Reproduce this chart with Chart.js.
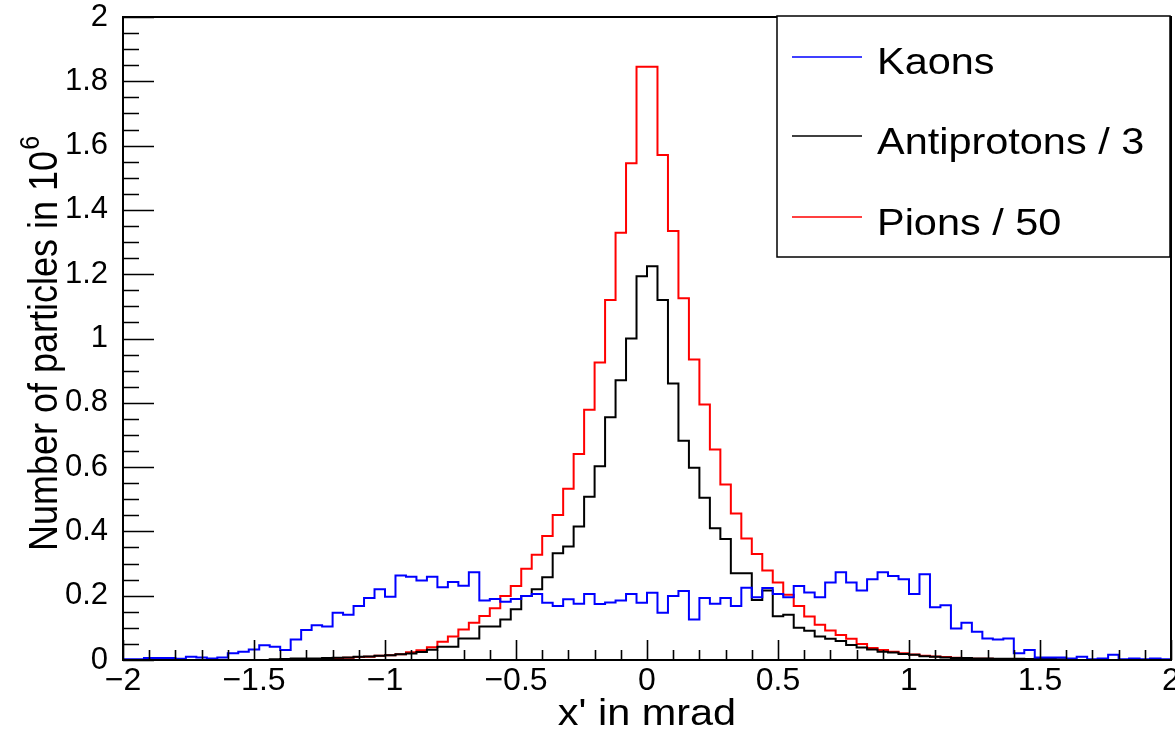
<!DOCTYPE html>
<html>
<head>
<meta charset="utf-8">
<script src="https://cdn.jsdelivr.net/npm/chart.js@4.4.1/dist/chart.umd.min.js"></script>
<style>
html,body{margin:0;padding:0;background:#fff;}
#wrap{position:relative;width:1175px;height:729px;}
</style>
</head>
<body>
<div id="wrap"><canvas id="c" width="1175" height="729"></canvas></div>
<script>
// ---- histogram binning (100 bins from -2 to 2 mrad) ----
const binLow = -2;
const binWidth = 0.04;
const nBins = 100;

// ---- axis tick labels ----
const xTicks = [-2, -1.5, -1, -0.5, 0, 0.5, 1, 1.5, 2];
const yTicks = [0, 0.2, 0.4, 0.6, 0.8, 1, 1.2, 1.4, 1.6, 1.8, 2];

// ---- series names ----
const seriesNames = ['Kaons', 'Antiprotons / 3', 'Pions / 50'];
const xTitle = "x' in mrad";
const yTitle = 'Number of particles in 10';
const yTitleSup = '6';

// ---- bin contents (in 10^6) ----
const kaons = [
  0.002,0.002,0.006,0.006,0.006,0.004,0.010,0.008,0.005,0.008,
  0.021,0.026,0.033,0.046,0.041,0.031,0.064,0.093,0.108,0.104,
  0.147,0.141,0.168,0.193,0.220,0.197,0.263,0.259,0.247,0.259,
  0.226,0.243,0.231,0.273,0.185,0.190,0.181,0.190,0.199,0.205,
  0.178,0.168,0.189,0.175,0.205,0.174,0.179,0.185,0.205,0.178,
  0.209,0.147,0.199,0.215,0.126,0.193,0.175,0.193,0.168,0.225,
  0.195,0.224,0.205,0.195,0.230,0.210,0.195,0.241,0.273,0.241,
  0.216,0.251,0.273,0.261,0.251,0.205,0.267,0.164,0.170,0.098,
  0.116,0.088,0.067,0.064,0.067,0.021,0.031,0.008,0.008,0.008,
  0.005,0.010,0.002,0.005,0.016,0.002,0.005,0.002,0.005,0.002
];
const antiprotons = [
  0,0,0,0,0,0,0,0,0,0,
  0,0,0,0,0.002,0.003,0.005,0.005,0.005,0.006,
  0.007,0.008,0.010,0.011,0.013,0.015,0.018,0.020,0.025,0.032,
  0.041,0.041,0.067,0.067,0.104,0.104,0.126,0.158,0.199,0.220,
  0.257,0.332,0.353,0.415,0.508,0.603,0.755,0.870,1.000,1.194,
  1.225,1.120,0.860,0.682,0.598,0.505,0.410,0.376,0.270,0.270,
  0.187,0.216,0.136,0.141,0.100,0.091,0.073,0.066,0.059,0.047,
  0.039,0.033,0.026,0.023,0.019,0.016,0.012,0.010,0.008,0.006,
  0.006,0.005,0.005,0.004,0.004,0.004,0.003,0.005,0.004,0.002,
  0.001,0,0,0,0,0,0,0,0,0
];
const pions = [
  0,0,0,0,0,0,0,0,0,0,
  0,0,0,0,0,0,0,0,0.003,0.004,
  0.006,0.007,0.009,0.010,0.013,0.015,0.018,0.024,0.030,0.040,
  0.057,0.073,0.095,0.116,0.137,0.161,0.199,0.230,0.284,0.327,
  0.386,0.451,0.533,0.641,0.778,0.925,1.120,1.329,1.545,1.845,
  1.845,1.571,1.334,1.125,0.935,0.795,0.655,0.546,0.456,0.378,
  0.330,0.278,0.241,0.203,0.168,0.135,0.110,0.092,0.078,0.066,
  0.050,0.037,0.031,0.026,0.021,0.017,0.013,0.011,0.009,0.007,
  0.006,0.004,0.004,0,0,0,0,0,0,0,
  0,0,0,0,0,0,0,0,0,0
];

const colors = ['#0000ff', '#000000', '#ff0000'];
const FONT = "'Liberation Sans', Arial, Helvetica, sans-serif";
const TEXT_SX = 1.12; // horizontal stretch of the reference lettering

// histogram -> step points at bin low edges plus the final upper edge
function toSteps(values) {
  const pts = values.map((v, i) => ({ x: +(binLow + i * binWidth).toFixed(4), y: v }));
  pts.push({ x: +(binLow + nBins * binWidth).toFixed(4), y: values[values.length - 1] });
  return pts;
}
function fmt(v) {
  return String(v).replace('-', '\u2212');
}
// draw horizontally stretched text
function sText(ctx, txt, x, y, align) {
  ctx.save();
  ctx.translate(x, y);
  ctx.scale(TEXT_SX, 1);
  ctx.textAlign = align || 'left';
  ctx.fillText(txt, 0, 0);
  ctx.restore();
}

const framePlugin = {
  id: 'rootFrame',
  afterDatasetsDraw(chart) {
    const { ctx, chartArea: a, scales } = chart;
    const xs = scales.x, ys = scales.y;
    ctx.save();
    ctx.strokeStyle = '#000';
    ctx.lineWidth = 2;
    ctx.strokeRect(a.left, a.top, a.right - a.left, a.bottom - a.top);
    ctx.lineWidth = 1.6;
    ctx.beginPath();
    // y ticks (inward)
    for (let k = 0; k <= 40; k++) {
      const v = k * 0.05;
      const py = Math.round(ys.getPixelForValue(v)) + 0.5;
      const len = (k % 4 === 0) ? 31 : 16;
      ctx.moveTo(a.left, py); ctx.lineTo(a.left + len, py);
    }
    // x ticks (inward)
    for (let k = 0; k <= 40; k++) {
      const v = -2 + k * 0.1;
      const px = Math.round(xs.getPixelForValue(v)) + 0.5;
      const len = (k % 5 === 0) ? 20 : 10;
      ctx.moveTo(px, a.bottom); ctx.lineTo(px, a.bottom - len);
    }
    ctx.stroke();
    ctx.restore();
  },
  afterDraw(chart) {
    const { ctx, chartArea: a } = chart;
    ctx.save();
    ctx.fillStyle = '#000';
    ctx.textBaseline = 'alphabetic';
    // x title
    ctx.font = '37px ' + FONT;
    sText(ctx, xTitle, (a.left + a.right) / 2, 725, 'center');
    // y title with superscript (rotated; screen-horizontal stretch = glyph height)
    const mainFont = '36px ' + FONT, supFont = '25px ' + FONT;
    ctx.font = mainFont;
    const w1 = ctx.measureText(yTitle).width;
    ctx.font = supFont;
    const w2 = ctx.measureText(yTitleSup).width;
    ctx.save();
    ctx.translate(57, 344);
    ctx.scale(TEXT_SX, 1);
    ctx.rotate(-Math.PI / 2);
    ctx.textAlign = 'left';
    const start = -(w1 + w2) / 2;
    ctx.font = mainFont;
    ctx.fillText(yTitle, start, 0);
    ctx.font = supFont;
    ctx.fillText(yTitleSup, start + w1 + 1, -16);
    ctx.restore();
    ctx.restore();

    // legend box
    ctx.save();
    const L = { x: 777, y: 16, w: 393, h: 241 };
    ctx.fillStyle = '#fff';
    ctx.fillRect(L.x, L.y, L.w, L.h);
    ctx.strokeStyle = '#000';
    ctx.lineWidth = 1.5;
    ctx.strokeRect(L.x, L.y, L.w, L.h);
    const rowsY = [57, 136, 217];
    const baseY = [74, 154, 235];
    ctx.font = '37px ' + FONT;
    ctx.textBaseline = 'alphabetic';
    chart.data.datasets.forEach((ds, i) => {
      ctx.strokeStyle = ds.borderColor;
      ctx.lineWidth = 1.5;
      ctx.beginPath();
      ctx.moveTo(792, rowsY[i]); ctx.lineTo(862, rowsY[i]);
      ctx.stroke();
      ctx.fillStyle = '#000';
      sText(ctx, ds.label, 877, baseY[i], 'left');
    });
    ctx.restore();
  }
};

const series = [kaons, antiprotons, pions];
new Chart(document.getElementById('c'), {
  type: 'line',
  data: {
    datasets: series.map((vals, i) => ({
      label: seriesNames[i],
      data: toSteps(vals),
      borderColor: colors[i],
      backgroundColor: colors[i],
      borderWidth: 2,
      stepped: true,
      pointRadius: 0,
      fill: false,
      tension: 0
    }))
  },
  options: {
    responsive: false,
    animation: false,
    devicePixelRatio: 1,
    layout: { padding: { left: 0, right: 4, top: 17, bottom: 0 } },
    plugins: { legend: { display: false }, tooltip: { enabled: false } },
    scales: {
      x: {
        type: 'linear', min: -2, max: 2,
        afterBuildTicks: (s) => { s.ticks = xTicks.map(v => ({ value: v })); },
        grid: { display: false, drawTicks: false },
        border: { display: false },
        ticks: {
          color: '#000', font: { family: FONT, size: 32 }, padding: 2,
          maxRotation: 0, autoSkip: false, callback: (v) => fmt(v)
        },
        afterFit: (s) => { s.height = 69; s.paddingLeft = 0; s.paddingRight = 0; }
      },
      y: {
        type: 'linear', min: 0, max: 2,
        afterBuildTicks: (s) => { s.ticks = yTicks.map(v => ({ value: v })); },
        grid: { display: false, drawTicks: false },
        border: { display: false },
        ticks: {
          color: '#000', font: { family: FONT, size: 31 }, padding: 15,
          autoSkip: false, callback: (v) => fmt(v)
        },
        afterFit: (s) => { s.width = 123; s.paddingTop = 0; s.paddingBottom = 0; }
      }
    }
  },
  plugins: [framePlugin]
});
</script>
</body>
</html>
